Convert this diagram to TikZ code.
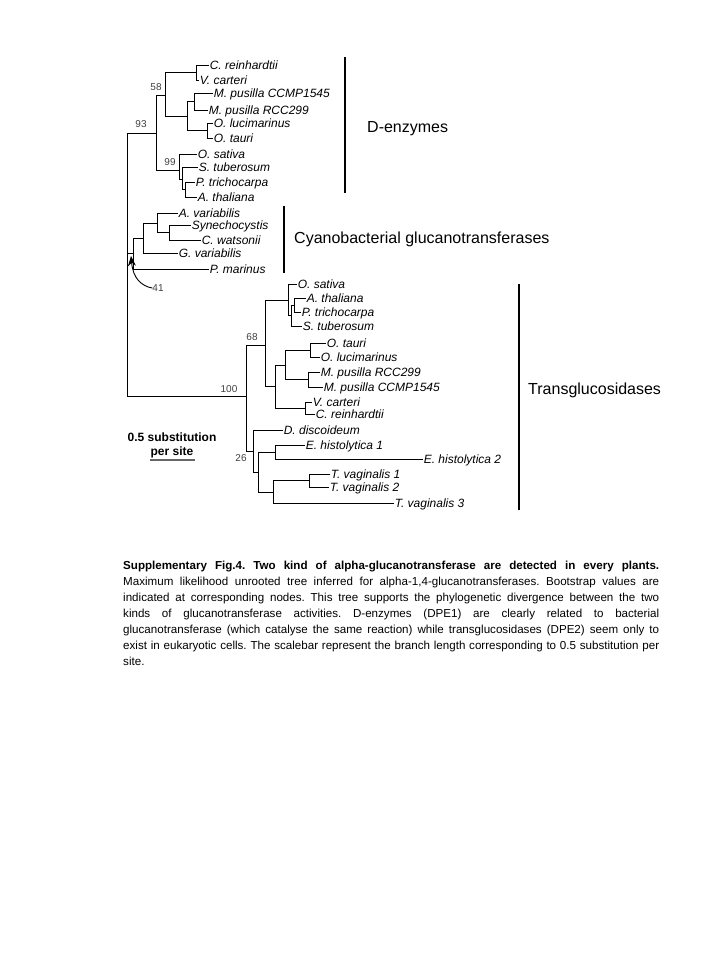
\documentclass[tikz,border=0pt]{standalone}
\usepackage{fontspec}
\setmainfont{Liberation Sans}
\usetikzlibrary{arrows.meta}

\tikzset{
  leaf/.style={anchor=west, inner xsep=0.6pt, inner ysep=0pt, text height=8.6pt, text depth=0pt,
    font=\itshape\fontsize{12}{12}\selectfont},
  boot/.style={inner sep=0pt, text=black!75, font=\fontsize{10}{10}\selectfont},
  branch/.style={line width=0.9pt},
  bar/.style={line width=1.1pt},
  group/.style={anchor=west, inner sep=0pt, text height=11.5pt, text depth=0pt,
    font=\fontsize{16}{16}\selectfont},
  scaletxt/.style={inner sep=0pt, font=\bfseries\fontsize{12}{12}\selectfont},
  caption/.style={anchor=north west, inner sep=0pt, text width=536pt, align=justify,
    font=\fontsize{11.6}{16}\selectfont}
}

\begin{document}
\begin{tikzpicture}[x=1pt,y=-1pt]
    \useasboundingbox (0,0) rectangle (720,960);
    % D-enzymes
    \begin{scope}
      \foreach \nm/\xx/\yy/\txt in {crein1/209/65/C. reinhardtii, vcart1/199/80/V. carteri,
          mccmp1/213/93/M. pusilla CCMP1545, mrcc1/208/110/M. pusilla RCC299,
          oluc1/213/123/O. lucimarinus, otau1/213/138/O. tauri, osat1/197/154/O. sativa,
          stub1/198/167/S. tuberosum, ptri1/195/182/P. trichocarpa, atha1/197/197/A. thaliana}{
          \node[leaf] (\nm) at (\xx,\yy) {\txt};
       }
      \coordinate (dA) at (196,72.5);
      \coordinate (dB) at (194,101.5);
      \coordinate (dC) at (207,130.5);
      \coordinate (dD) at (187,116);
      \coordinate (d58) at (165,95);
      \coordinate (dE) at (185,189.5);
      \coordinate (dF) at (182,179);
      \coordinate (d99) at (179,170);
      \coordinate (d93) at (156,133);
      \foreach \pa/\ch in {dA/crein1, dA/vcart1, dB/mccmp1, dB/mrcc1, dC/oluc1, dC/otau1,
          dD/dB, dD/dC, d58/dA, d58/dD, dE/ptri1, dE/atha1, dF/stub1, dF/dE,
          d99/osat1, d99/dF, d93/d58, d93/d99}{
          \draw[branch] (\pa) |- (\ch);
       }
      \node[boot] (b58) at (156,87) {58};
      \node[boot] (b93) at (141,124) {93};
      \node[boot] (b99) at (170,162) {99};
      \draw[bar] (345,57) -- (345,193);
      \node[group] (dlab) at (367,127) {D-enzymes};
    \end{scope}
    % cyanobacteria
    \begin{scope}
      \foreach \nm/\xx/\yy/\txt in {avar/178/213/A. variabilis, syne/191/225/Synechocystis,
          cwat/201/240/C. watsonii, gvar/178/253/G. variabilis, pmar/209/269/P. marinus}{
          \node[leaf] (\nm) at (\xx,\yy) {\txt};
       }
      \coordinate (cH) at (169,232.5);
      \coordinate (cI) at (157,223);
      \coordinate (cJ) at (143,238);
      \coordinate (cK) at (133,253.5);
      \foreach \pa/\ch in {cH/syne, cH/cwat, cI/avar, cI/cH, cJ/cI, cJ/gvar, cK/cJ, cK/pmar}{
          \draw[branch] (\pa) |- (\ch);
       }
      \node[boot] (b41) at (158,288) {41};
      \coordinate (tip41) at (131,256);
      \draw[line width=0.9pt,-{Stealth[length=10pt,width=8pt]}] (b41.west) .. controls (141,286) and (133,278) .. (tip41);
      \draw[bar] (284,206) -- (284,273);
      \node[group] (clab) at (294,238) {Cyanobacterial glucanotransferases};
    \end{scope}
    % transglucosidases
    \begin{scope}
      \foreach \nm/\xx/\yy/\txt in {osat2/297/284/O. sativa, atha2/306/298/A. thaliana,
          ptri2/301/312/P. trichocarpa, stub2/302/326/S. tuberosum, otau2/326/343/O. tauri,
          oluc2/320/357/O. lucimarinus, mrcc2/320/372/M. pusilla RCC299,
          mccmp2/323/387/M. pusilla CCMP1545, vcart2/312/402/V. carteri,
          crein2/315/414/C. reinhardtii, ddis/283/430/D. discoideum,
          ehis1/305/445/E. histolytica 1, ehis2/423/459/E. histolytica 2,
          tvag1/330/474/T. vaginalis 1, tvag2/329/487/T. vaginalis 2, tvag3/394/503/T. vaginalis 3}{
          \node[leaf] (\nm) at (\xx,\yy) {\txt};
       }
      \coordinate (tS) at (294,305);
      \coordinate (tT) at (291,315.5);
      \coordinate (tU) at (288,300);
      \coordinate (tO) at (310,350);
      \coordinate (tM) at (308,379.5);
      \coordinate (tW) at (285,365);
      \coordinate (tX) at (305,408);
      \coordinate (tV) at (275,386.5);
      \coordinate (t68) at (265,345);
      \coordinate (tR) at (309,480.5);
      \coordinate (tQ) at (273,492);
      \coordinate (tP) at (275,452);
      \coordinate (tN) at (258,472);
      \coordinate (t26) at (253,451);
      \coordinate (t100) at (246,396);
      \foreach \pa/\ch in {tS/atha2, tS/ptri2, tT/tS, tT/stub2, tU/osat2, tU/tT,
          tO/otau2, tO/oluc2, tM/mrcc2, tM/mccmp2, tW/tO, tW/tM, tX/vcart2, tX/crein2,
          tV/tW, tV/tX, t68/tU, t68/tV, tR/tvag1, tR/tvag2, tQ/tR, tQ/tvag3,
          tP/ehis1, tP/ehis2, tN/tP, tN/tQ, t26/ddis, t26/tN, t100/t68, t100/t26}{
          \draw[branch] (\pa) |- (\ch);
       }
      \node[boot] (b68) at (252,337) {68};
      \node[boot] (b100) at (229,389) {100};
      \node[boot] (b26) at (241,458) {26};
      \draw[bar] (519,284) -- (519,510);
      \node[group] (tlab) at (528,389) {Transglucosidases};
    \end{scope}
    % root
    \coordinate (root) at (127,263);
    \foreach \ch in {d93, cK, t100}{
        \draw[branch] (root) |- (\ch);
     }
    % scale bar
    \node[scaletxt] (sc1) at (172,437) {0.5 substitution};
    \node[scaletxt] (sc2) at (172,452) {per site};
    \draw[line width=1.1pt, black!60] (150,460) -- (195,460);
    % caption
    \node[caption] (cap) at (123,561) {\frenchspacing\hyphenpenalty=10000\exhyphenpenalty=10000\tolerance=10000
      \textbf{Supplementary Fig.4. Two kind of alpha-glucanotransferase are detected in every plants.}\linebreak
      Maximum likelihood unrooted tree inferred for alpha-1,4-glucanotransferases. Bootstrap values are\linebreak
      indicated at corresponding nodes. This tree supports the phylogenetic divergence between the two\linebreak
      kinds of glucanotransferase activities. D-enzymes (DPE1) are clearly related to bacterial\linebreak
      glucanotransferase (which catalyse the same reaction) while transglucosidases (DPE2) seem only to\linebreak
      exist in eukaryotic cells. The scalebar represent the branch length corresponding to 0.5 substitution per\linebreak
      site.};
  \end{tikzpicture}
\end{document}
